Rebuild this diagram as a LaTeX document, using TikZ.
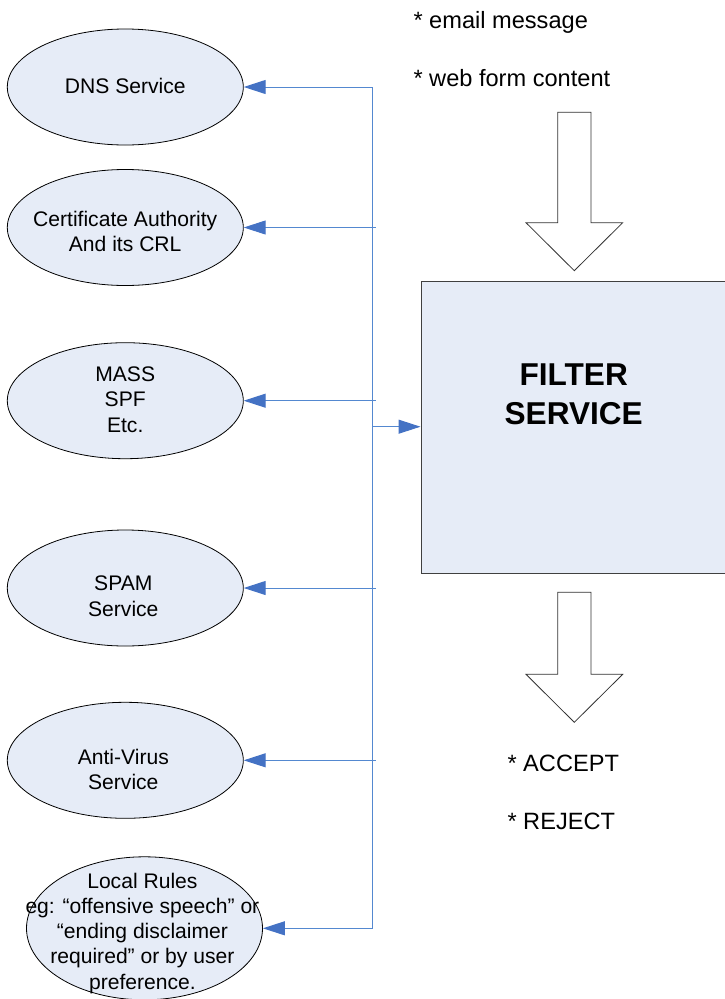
\documentclass[tikz,border=0pt]{standalone}
\usepackage{fontspec}
\setmainfont{Liberation Sans}
\usetikzlibrary{shapes.geometric,arrows.meta}
\definecolor{ellfill}{RGB}{230,236,247}
\definecolor{connblue}{RGB}{84,136,208}
\definecolor{tipblue}{RGB}{68,114,196}
\definecolor{boxedge}{RGB}{64,64,64}
\tikzset{
 ell/.style={ellipse, draw=black, line width=0.8pt, fill=ellfill, inner sep=0pt, minimum width=236pt, minimum height=116pt},
 etext/.style={align=center, font=\fontsize{21.1}{25.3}\selectfont, inner sep=0pt},
 rtext/.style={anchor=base west, font=\fontsize{23.6}{28}\selectfont, inner sep=0pt},
 conn/.style={draw=connblue, line width=1pt, -{Triangle[length=22pt,width=14pt,color=tipblue]}},
 bus/.style={draw=connblue, line width=1pt},
 fbox/.style={draw=boxedge, line width=1pt, fill=ellfill, minimum width=314pt, minimum height=292pt, inner sep=0pt},
 hollow/.style={draw=black!80, line width=0.8pt, fill=white},
 ftext/.style={align=center, font=\fontsize{31.6}{39}\selectfont\bfseries, inner sep=0pt},
}
\begin{document}
\begin{tikzpicture}[x=1pt,y=-1pt]
\useasboundingbox (0,0) rectangle (725,999);
% ellipses
\node[ell] (dns) at (125.3,87) {};
\node[ell] (ca) at (125.3,227.5) {};
\node[ell] (mass) at (125.3,400.7) {};
\node[ell] (spam) at (125.3,588) {};
\node[ell] (av) at (125.3,760.3) {};
\node[ell, minimum height=143pt] (local) at (144.5,928.3) {};
% ellipse texts
\node[etext] (dnst) at (125.3,86.2) {DNS Service};
\node[etext] (cat) at (125.2,231.5) {Certificate Authority\\And its CRL};
\node[etext] (masst) at (125.2,399.6) {MASS\\SPF\\Etc.};
\node[etext] (spamt) at (123.3,596.2) {SPAM\\Service};
\node[etext] (avt) at (123.3,769.2) {Anti-Virus\\Service};
\node[etext] (localt) at (142.4,933.2) {Local Rules\\eg: “offensive speech” or\\“ending disclaimer\\required” or by user\\preference.};
% filter box
\node[fbox] (filter) at (578,427) {};
\node[ftext] (filtert) at (573.7,394.2) {FILTER\\SERVICE};
% hollow arrows
\draw[hollow] (557.7,112.3) -- (591,112.3) -- (591,222.7) -- (622.7,222.7) -- (574.3,270.7) -- (526,222.7) -- (557.7,222.7) -- cycle;
\draw[hollow] (557.7,592.3) -- (591,592.3) -- (591,674.3) -- (622.7,674.3) -- (574.3,722.3) -- (526,674.3) -- (557.7,674.3) -- cycle;
% texts
\node[rtext] (in1) at (413.3,28.3) {* email message};
\node[rtext] (in2) at (413.3,86) {* web form content};
\node[rtext] (out1) at (507.3,771.7) {* ACCEPT};
\node[rtext] (out2) at (507.3,829.3) {* REJECT};
% connectors
\coordinate (bustop) at (372.7,87);
\coordinate (busbot) at (372.7,928.3);
\coordinate (busmid) at (372.7,426.7);
\coordinate (tapca) at (375.7,227.5);
\coordinate (tapmass) at (375.7,400.7);
\coordinate (tapspam) at (375.7,588);
\coordinate (tapav) at (375.7,760.3);
\draw[bus] (bustop) -- (busbot);
\draw[conn] (bustop) -- (dns);
\draw[conn] (tapca) -- (ca);
\draw[conn] (tapmass) -- (mass);
\draw[conn] (tapspam) -- (spam);
\draw[conn] (tapav) -- (av);
\draw[conn] (busbot) -- (local);
\draw[conn] (busmid) -- (busmid -| filter.west);
\end{tikzpicture}
\end{document}
